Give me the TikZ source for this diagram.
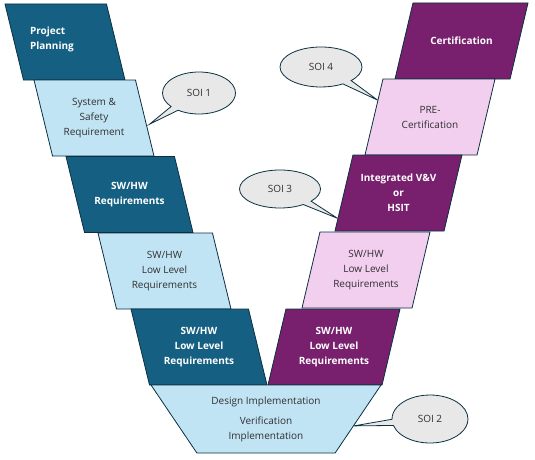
\documentclass[tikz,border=0pt]{standalone}
\usepackage{fontspec}
\setmainfont{Open Sans}
\usepackage{tikz}
\usetikzlibrary{shapes.geometric,shapes.callouts,arrows.meta,positioning,calc}

\definecolor{vblue}{HTML}{156082}
\definecolor{vbluelt}{HTML}{C1E4F5}
\definecolor{vpurple}{HTML}{78206E}
\definecolor{vpurplelt}{HTML}{F2CEEF}
\definecolor{vline}{HTML}{0B3041}
\definecolor{vgrey}{HTML}{E8E8E8}
\definecolor{vtext}{HTML}{303030}

\newcommand{\stagefont}{\fontsize{10}{15}\selectfont}
\newcommand{\soifont}{\fontsize{10}{12}\selectfont}
% caixa de texto com altura fixa (a altura define a inclinacao)
\newcommand{\stagetxt}[2][\centering]{\parbox[c][60pt][c]{80pt}{#1#2}}
\newcommand{\basetxt}[1]{\parbox[c][52pt][c]{125pt}{\centering #1}}

\begin{document}
\begin{tikzpicture}[
    x=1pt, y=-1pt,
    >=Latex,
    stage/.style={trapezium, trapezium stretches body, draw=vline, line width=0.8pt, inner xsep=1pt, inner ysep=8pt, font=\stagefont},
    lstage/.style={stage, trapezium left angle=103.7, trapezium right angle=76.3},
    rstage/.style={stage, trapezium left angle=76.7, trapezium right angle=103.3},
    darkl/.style={lstage, fill=vblue, text=white, font=\stagefont\bfseries},
    lightl/.style={lstage, fill=vbluelt, text=vtext},
    darkr/.style={rstage, fill=vpurple, text=white, font=\stagefont\bfseries},
    lightr/.style={rstage, fill=vpurplelt, text=vtext},
    base/.style={stage, trapezium left angle=124, trapezium right angle=124, fill=vbluelt, text=vtext},
    soi/.style={ellipse callout, draw=vline, fill=vgrey, line width=0.8pt, text=vtext, font=\soifont, inner sep=0pt}
]
    \useasboundingbox (0,0) rectangle (535,460);

    % Ramo esquerdo (desenvolvimento)
    \node[darkl, minimum width=120pt] (plan) at (65,42) {\stagetxt[\raggedright\leftskip=5pt]{Project\\Planning\\[6pt]}};
    \node[lightl, minimum width=120pt] (sys) at (94,118) {\stagetxt{System \&\\Safety\\Requirement}};
    \node[darkl, minimum width=127pt] (req) at (129.5,194.5) {\stagetxt{SW/HW\\Requirements}};
    \node[lightl, minimum width=133pt] (llrl) at (164.5,271) {\stagetxt{SW/HW\\Low Level\\Requirements}};
    \node[darkl, minimum width=136pt] (llrd) at (199,347) {\stagetxt{SW/HW\\Low Level\\Requirements}};

    % Ramo direito (verificacao)
    \node[darkr, minimum width=133pt] (cert) at (461.5,41) {\stagetxt{Certification}};
    \node[lightr, minimum width=130pt] (pre) at (430,117) {\stagetxt{PRE-\\Certification}};
    \node[darkr, minimum width=127pt] (ivv) at (398.5,193) {\stagetxt{Integrated V\&V\\or\\HSIT}};
    \node[lightr, minimum width=128pt] (llrp) at (366,270) {\stagetxt{SW/HW\\Low Level\\Requirements}};
    \node[darkr, minimum width=132pt] (llrv) at (334,347) {\stagetxt{SW/HW\\Low Level\\Requirements}};

    % Base do V
    \node[base, minimum width=230pt] (impl) at (266,419) {\basetxt{Design Implementation\\[5pt]Verification\\Implementation}};

    % Baloes SOI
    \node[soi, minimum width=73pt, minimum height=42pt, callout absolute pointer={($(sys.top right corner)!0.58!(sys.bottom right corner)+(3,0)$)}] (soi1) at (199,93) {SOI 1};
    \node[soi, minimum width=82pt, minimum height=40pt, callout absolute pointer={($(pre.top left corner)!0.28!(pre.bottom left corner)$)}] (soi4) at (321,67) {SOI 4};
    \node[soi, minimum width=81pt, minimum height=38pt, callout absolute pointer={($(ivv.top left corner)!0.83!(ivv.bottom left corner)$)}] (soi3) at (280,189) {SOI 3};
    \node[soi, minimum width=76pt, minimum height=48pt, callout absolute pointer={($(impl.top right corner)!0.6!(impl.bottom right corner)$)}] (soi2) at (430,419) {SOI 2};

\end{tikzpicture}
\end{document}
